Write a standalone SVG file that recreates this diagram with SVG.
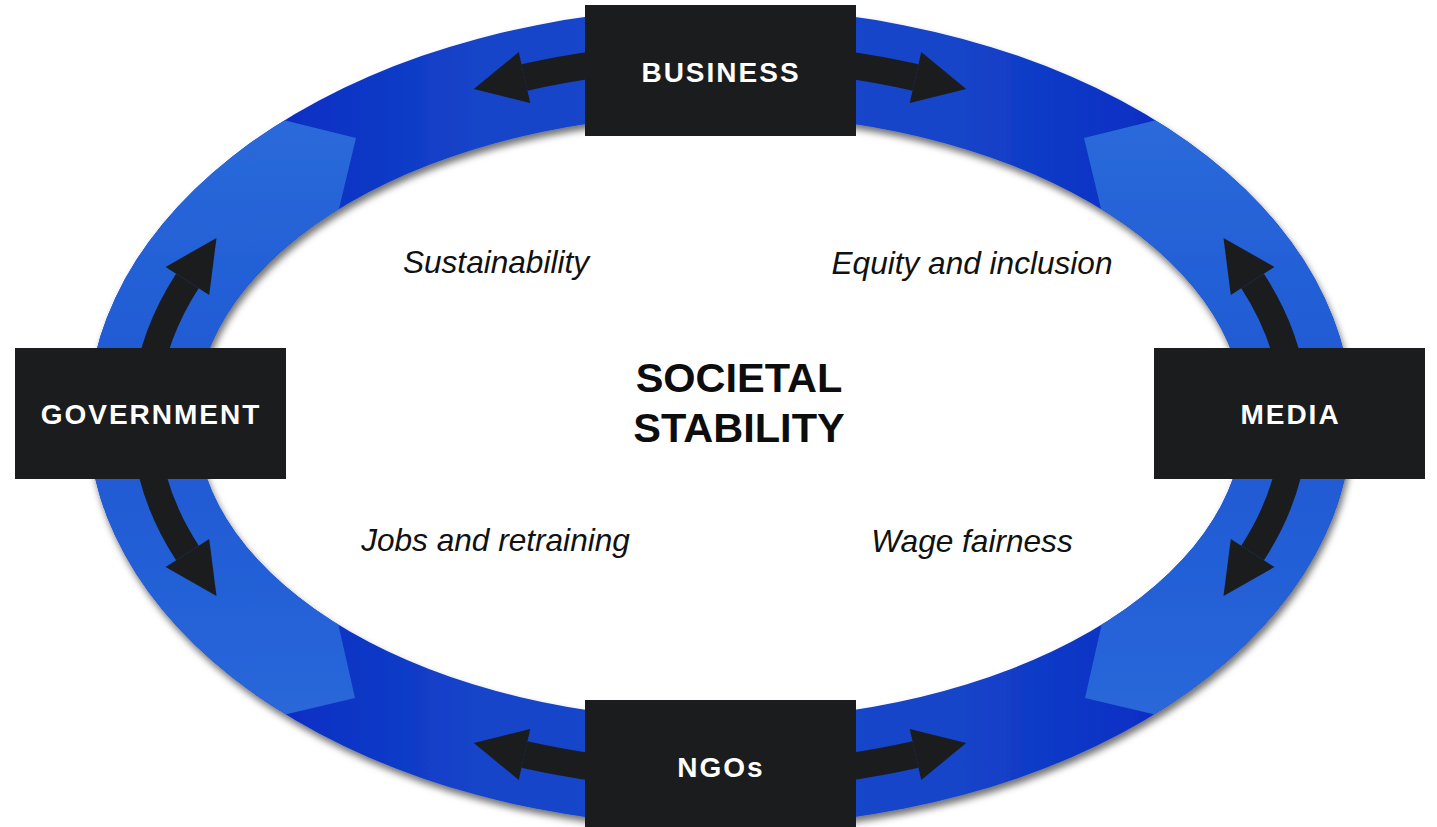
<svg xmlns="http://www.w3.org/2000/svg" width="1437" height="827" viewBox="0 0 1437 827">
  <style>
    .box { fill: #1a1c1d; }
    .lbl { font-family: "Liberation Sans", Arial, sans-serif; font-weight: bold; font-size: 28px; fill: #ffffff; letter-spacing: 2px; text-anchor: middle; }
    .theme { font-family: "Liberation Sans", Arial, sans-serif; font-style: italic; font-size: 31.6px; fill: #111111; text-anchor: middle; }
    .center { font-family: "Liberation Sans", Arial, sans-serif; font-weight: bold; font-size: 41.5px; fill: #0d0d0d; text-anchor: middle; }
    .shaft { fill: none; stroke: #1a1c1d; stroke-width: 27; stroke-linecap: butt; }
    .head { fill: #1a1c1d; }
  </style>
  <defs>
    <linearGradient id="gTop" x1="0" y1="0" x2="1437" y2="0" gradientUnits="userSpaceOnUse">
      <stop offset="0.2" stop-color="#0b2ec4"/>
      <stop offset="0.33" stop-color="#1444c9"/>
      <stop offset="0.5" stop-color="#1647ca"/>
      <stop offset="0.67" stop-color="#1444c9"/>
      <stop offset="0.8" stop-color="#0b2ec4"/>
    </linearGradient>
    <linearGradient id="gSide" x1="0" y1="100" x2="0" y2="740" gradientUnits="userSpaceOnUse">
      <stop offset="0" stop-color="#2b6bda"/>
      <stop offset="0.45" stop-color="#1f59d4"/>
      <stop offset="0.55" stop-color="#1f59d4"/>
      <stop offset="1" stop-color="#2a69da"/>
    </linearGradient>
    <clipPath id="ringClip">
      <path clip-rule="evenodd" d="M 88,417 A 632,409.5 0 1,0 1352,417 A 632,409.5 0 1,0 88,417 Z M 196,417 A 524,303 0 1,0 1244,417 A 524,303 0 1,0 196,417 Z"/>
    </clipPath>
    <filter id="shadow" x="-10%" y="-10%" width="120%" height="120%">
      <feDropShadow dx="2" dy="5" stdDeviation="3.5" flood-color="#000000" flood-opacity="0.55"/>
    </filter>
  </defs>

  <rect width="1437" height="827" fill="#ffffff"/>

  <g id="ring" filter="url(#shadow)">
    <g clip-path="url(#ringClip)">
      <rect x="0" y="0" width="1437" height="827" fill="url(#gTop)"/>
      <polygon points="0,50 356,138 317,300 318,535 355,698 0,782" fill="url(#gSide)"/>
      <polygon points="1440,50 1084,138 1123,300 1122,535 1085,698 1440,782" fill="url(#gSide)"/>
    </g>
  </g>

  <g id="connectors">
    <path class="shaft" d="M 600,63.9 A 575,361 0 0,0 524.5,77.5"/>
    <polygon class="head" points="473.8,89 518.75,52.1 530.25,102.9"/>
    <path class="shaft" d="M 840,63.9 A 575,361 0 0,1 915.5,77.5"/>
    <polygon class="head" points="966.2,89 921.25,52.1 909.75,102.9"/>
    <path class="shaft" d="M 600,768.1 A 575,361 0 0,1 524.5,754.5"/>
    <polygon class="head" points="473.8,743 518.75,779.9 530.25,729.1"/>
    <path class="shaft" d="M 840,768.1 A 575,361 0 0,0 915.5,754.5"/>
    <polygon class="head" points="966.2,743 921.25,779.9 909.75,729.1"/>
    <path class="shaft" d="M 146.6,390 A 575,361 0 0,1 187.4,281"/>
    <polygon class="head" points="216.5,238 209.2,295.1 165.6,266.9"/>
    <path class="shaft" d="M 146.6,444 A 575,361 0 0,0 187.4,553"/>
    <polygon class="head" points="216.5,596 209.2,538.9 165.6,567.1"/>
    <path class="shaft" d="M 1293.4,390 A 575,361 0 0,0 1252.6,281"/>
    <polygon class="head" points="1223.5,238 1230.8,295.1 1274.4,266.9"/>
    <path class="shaft" d="M 1293.4,444 A 575,361 0 0,1 1252.6,553"/>
    <polygon class="head" points="1223.5,596 1230.8,538.9 1274.4,567.1"/>
  </g>

  <g id="business">
    <rect class="box" x="585" y="5" width="271" height="131"/>
    <text class="lbl" x="721" y="81.5">BUSINESS</text>
  </g>
  <g id="government">
    <rect class="box" x="15" y="348" width="271" height="131"/>
    <text class="lbl" x="151" y="424">GOVERNMENT</text>
  </g>
  <g id="media">
    <rect class="box" x="1154" y="348" width="271" height="131"/>
    <text class="lbl" x="1290.5" y="424">MEDIA</text>
  </g>
  <g id="ngos">
    <rect class="box" x="585" y="700" width="271" height="131"/>
    <text class="lbl" x="721" y="776.5">NGOs</text>
  </g>

  <g id="themes">
    <text class="theme" x="496" y="273">Sustainability</text>
    <text class="theme" x="972" y="274">Equity and inclusion</text>
    <text class="theme" x="495.5" y="551">Jobs and retraining</text>
    <text class="theme" x="972" y="552">Wage fairness</text>
  </g>

  <g id="center">
    <text class="center" x="739" y="392">SOCIETAL</text>
    <text class="center" x="739" y="442">STABILITY</text>
  </g>
</svg>
